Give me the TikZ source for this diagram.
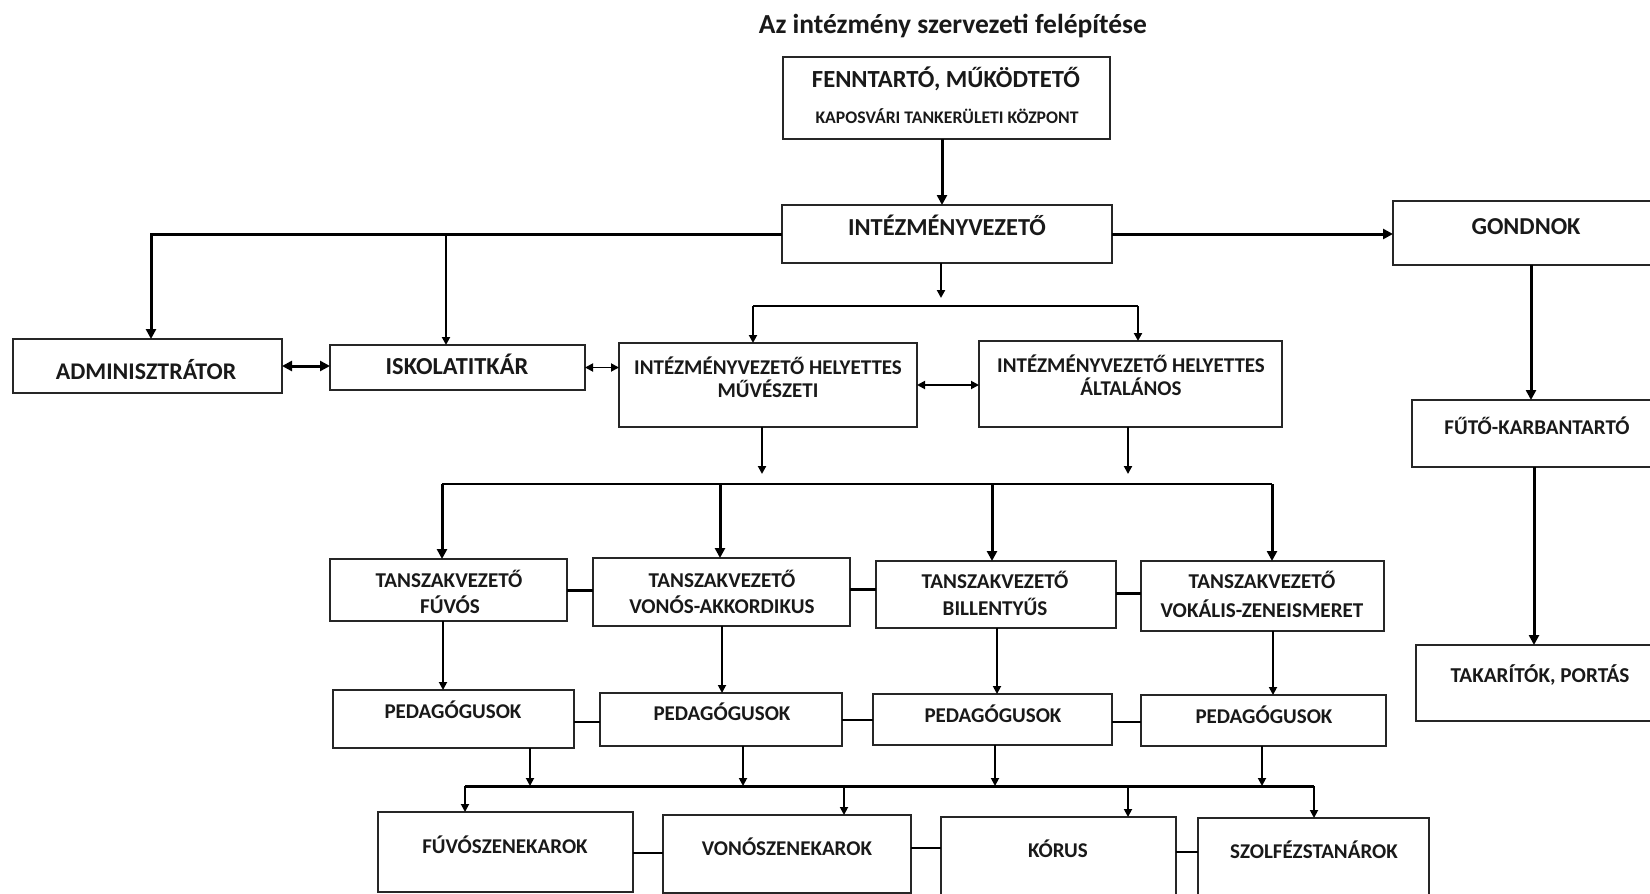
\documentclass[tikz,border=0pt]{standalone}
\usepackage{fontspec}
\setmainfont{Carlito}
\usetikzlibrary{arrows.meta,calc}
\tikzset{
  box/.style={draw=black!85, line width=1.7pt, rectangle, inner sep=0pt, outer sep=0pt},
  lbl/.style={anchor=base, inner sep=0pt, outer sep=0pt, font=\bfseries\fontsize{#1}{#1}\selectfont, text=black!90},
  thk/.style={draw=black, line width=3pt, line join=miter},
  med/.style={draw=black, line width=2.3pt, line join=miter},
  thn/.style={draw=black, line width=1.8pt},
  tipL/.tip={Triangle[length=10pt,width=10pt]},
  tipS/.tip={Triangle[length=8pt,width=8pt]},
}
\newcommand{\mkbox}[5]{\node[box, minimum width={(#4-#2)*1pt}, minimum height={(#5-#3)*1pt}] (#1) at ({(#2+#4)/2},{(#3+#5)/2}) {};}
\begin{document}
\begin{tikzpicture}[x=1pt,y=-1pt]
\path[use as bounding box, clip] (0,0) rectangle (1650,894);
\fill[white] (0,0) rectangle (1650,894);
% boxes
\mkbox{fen}{783}{57}{1110}{139}
\mkbox{iv}{782}{205}{1112}{263}
\mkbox{gond}{1393}{201}{1720}{265}
\mkbox{adm}{13}{339}{282}{393}
\mkbox{isk}{330}{345}{585}{390}
\mkbox{ivhm}{619}{343}{917}{427}
\mkbox{ivha}{979}{341}{1282}{427}
\mkbox{futo}{1412}{400}{1720}{467}
\mkbox{tak}{1416}{645}{1720}{721}
\mkbox{tf}{330}{559}{567}{621}
\mkbox{tv}{593}{558}{850}{626}
\mkbox{tb}{876}{561}{1116}{628}
\mkbox{tvk}{1141}{561}{1384}{631}
\mkbox{pa}{333}{690}{574}{748}
\mkbox{pb}{600}{693}{842}{746}
\mkbox{pc}{873}{694}{1112}{745}
\mkbox{pd}{1141}{695}{1386}{746}
\mkbox{fz}{378}{812}{633}{892}
\mkbox{vz}{663}{815}{911}{893}
\mkbox{kor}{941}{817}{1176}{910}
\mkbox{szo}{1198}{818}{1429}{910}
% labels
\node[lbl=27.5] (tTitle) at (953,33) {Az intézmény szervezeti felépítése};
\node[lbl=24.6] (tFen1) at (946,87) {FENNTARTÓ, MŰKÖDTETŐ};
\node[lbl=17.7] (tFen2) at (947,123) {KAPOSVÁRI TANKERÜLETI KÖZPONT};
\node[lbl=24.4] (tIv) at (947,235) {INTÉZMÉNYVEZETŐ};
\node[lbl=24.3] (tGond) at (1526,234) {GONDNOK};
\node[lbl=23.9] (tAdm) at (146,379) {ADMINISZTRÁTOR};
\node[lbl=24.4] (tIsk) at (457,374) {ISKOLATITKÁR};
\node[lbl=21] (tM1) at (768,374) {INTÉZMÉNYVEZETŐ HELYETTES};
\node[lbl=21] (tM2) at (768,397) {MŰVÉSZETI};
\node[lbl=21] (tA1) at (1131,372) {INTÉZMÉNYVEZETŐ HELYETTES};
\node[lbl=21] (tA2) at (1131,395) {ÁLTALÁNOS};
\node[lbl=21.1] (tF1) at (449,587) {TANSZAKVEZETŐ};
\node[lbl=21.1] (tF2) at (450,613) {FÚVÓS};
\node[lbl=21.1] (tV1) at (722,587) {TANSZAKVEZETŐ};
\node[lbl=21.1] (tV2) at (722,613) {VONÓS-AKKORDIKUS};
\node[lbl=21.1] (tB1) at (995,588) {TANSZAKVEZETŐ};
\node[lbl=21.1] (tB2) at (995,615) {BILLENTYŰS};
\node[lbl=21.1] (tK1) at (1262,588) {TANSZAKVEZETŐ};
\node[lbl=21.1] (tK2) at (1262,617) {VOKÁLIS-ZENEISMERET};
\node[lbl=21] (tPa) at (453,718) {PEDAGÓGUSOK};
\node[lbl=21] (tPb) at (722,720) {PEDAGÓGUSOK};
\node[lbl=21] (tPc) at (993,722) {PEDAGÓGUSOK};
\node[lbl=21] (tPd) at (1264,723) {PEDAGÓGUSOK};
\node[lbl=21] (tFz) at (505,853) {FÚVÓSZENEKAROK};
\node[lbl=21] (tVz) at (787,855) {VONÓSZENEKAROK};
\node[lbl=21] (tKor) at (1058,857) {KÓRUS};
\node[lbl=21] (tSzo) at (1314,858) {SZOLFÉZSTANÁROK};
\node[lbl=21] (tFuto) at (1537,434) {FŰTŐ-KARBANTARTÓ};
\node[lbl=21.2] (tTak) at (1540,682) {TAKARÍTÓK, PORTÁS};
% coordinates
\coordinate (cT) at (942,100);
\coordinate (cL) at (151,234);
\coordinate (cI) at (446,234);
\coordinate (cG) at (1531,300);
\coordinate (cF) at (1534,550);
\coordinate (cD) at (941,298);
\coordinate (brL) at (753,306);
\coordinate (brR) at (1138,306);
\coordinate (cM) at (762,474);
\coordinate (cA) at (1128,474);
\coordinate (b1a) at (442,484);
\coordinate (b1c) at (720,484);
\coordinate (b1d) at (992,484);
\coordinate (b1b) at (1272,484);
\coordinate (x1) at (443,650);
\coordinate (x2) at (722,650);
\coordinate (x3) at (997,650);
\coordinate (x4) at (1273,650);
\coordinate (s1) at (0,590);
\coordinate (s2) at (0,589);
\coordinate (s3) at (0,593);
\coordinate (q1) at (0,722);
\coordinate (q2) at (0,720);
\coordinate (q3) at (0,722);
\coordinate (j1) at (530,786);
\coordinate (j2) at (743,786);
\coordinate (j3) at (995,786);
\coordinate (j4) at (1262,786);
\coordinate (b2a) at (465,786);
\coordinate (b2c) at (844,786);
\coordinate (b2d) at (1128,786);
\coordinate (b2b) at (1314,786);
\coordinate (r1) at (0,853);
\coordinate (r2) at (0,848);
\coordinate (r3) at (0,852);
% connectors
\draw[thk,-tipL] (fen.south -| cT) -- (iv.north -| cT);
\draw[thk,-tipL] (iv.west) -- (cL) -- (cL |- adm.north);
\draw[med,-tipS] (cI) -- (cI |- isk.north);
\draw[thk,-tipL] (iv.east) -- (iv.east -| gond.west);
\draw[thk,-tipL] (gond.south -| cG) -- (futo.north -| cG);
\draw[thk,-tipL] (futo.south -| cF) -- (tak.north -| cF);
\draw[thk,tipL-tipL] (adm.east) -- (adm.east -| isk.west);
\draw[thn,tipS-tipS] (isk.east) -- (isk.east -| ivhm.west);
\draw[thn,tipS-tipS] (ivhm.east) -- (ivhm.east -| ivha.west);
\draw[med,-tipS] (iv.south -| cD) -- (cD);
\draw[med] (brL) -- (brR);
\draw[med,-tipS] (brL) -- (brL |- ivhm.north);
\draw[med,-tipS] (brR) -- (brR |- ivha.north);
\draw[med,-tipS] (ivhm.south -| cM) -- (cM);
\draw[med,-tipS] (ivha.south -| cA) -- (cA);
\draw[med] (b1a) -- (b1b);
\draw[thk,-tipL] (b1a) -- (b1a |- tf.north);
\draw[thk,-tipL] (b1c) -- (b1c |- tv.north);
\draw[thk,-tipL] (b1d) -- (b1d |- tb.north);
\draw[thk,-tipL] (b1b) -- (b1b |- tvk.north);
\draw[thn,-tipS] (tf.south -| x1) -- (pa.north -| x1);
\draw[thn,-tipS] (tv.south -| x2) -- (pb.north -| x2);
\draw[thn,-tipS] (tb.south -| x3) -- (pc.north -| x3);
\draw[thn,-tipS] (tvk.south -| x4) -- (pd.north -| x4);
\draw[thk] (s1 -| tf.east) -- (s1 -| tv.west);
\draw[thk] (s2 -| tv.east) -- (s2 -| tb.west);
\draw[thk] (s3 -| tb.east) -- (s3 -| tvk.west);
\draw[thn] (q1 -| pa.east) -- (q1 -| pb.west);
\draw[thn] (q2 -| pb.east) -- (q2 -| pc.west);
\draw[thn] (q3 -| pc.east) -- (q3 -| pd.west);
\draw[thn,-tipS] (pa.south -| j1) -- (j1);
\draw[thn,-tipS] (pb.south -| j2) -- (j2);
\draw[thn,-tipS] (pc.south -| j3) -- (j3);
\draw[thn,-tipS] (pd.south -| j4) -- (j4);
\draw[thk] (b2a) -- (b2b);
\draw[thn,-tipS] (b2a) -- (b2a |- fz.north);
\draw[thn,-tipS] (b2c) -- (b2c |- vz.north);
\draw[thn,-tipS] (b2d) -- (b2d |- kor.north);
\draw[thn,-tipS] (b2b) -- (b2b |- szo.north);
\draw[thn] (r1 -| fz.east) -- (r1 -| vz.west);
\draw[thn] (r2 -| vz.east) -- (r2 -| kor.west);
\draw[thn] (r3 -| kor.east) -- (r3 -| szo.west);
\end{tikzpicture}
\end{document}
